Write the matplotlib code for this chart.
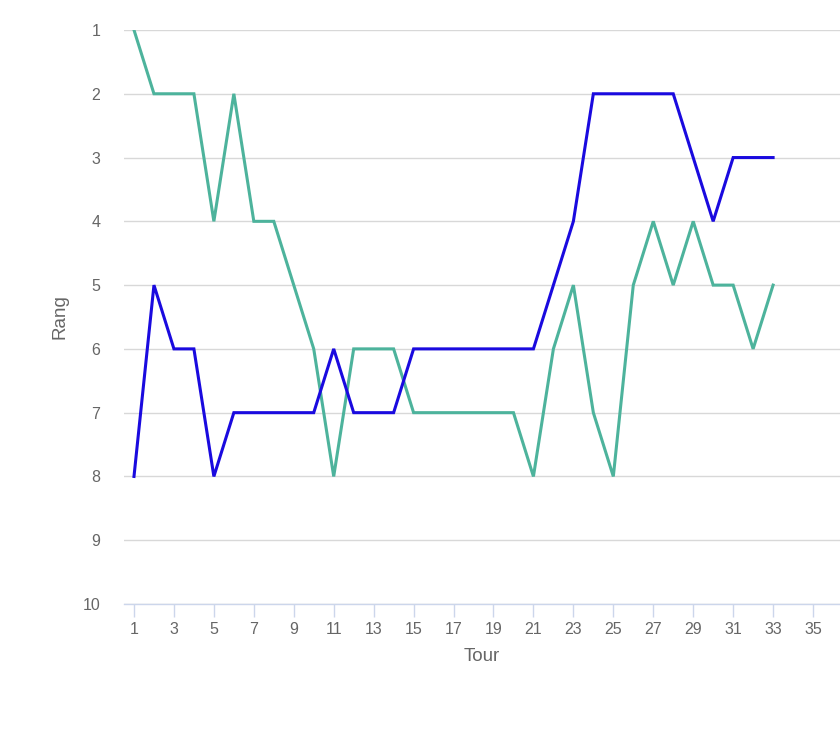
import matplotlib
matplotlib.use("Agg")
import matplotlib.pyplot as plt

# rounds and ranks
tours = list(range(1, 34))
rang_vert = [1, 2, 2, 2, 4, 2, 4, 4, 5, 6, 8, 6, 6, 6, 7, 7, 7, 7, 7, 7,
             8, 6, 5, 7, 8, 5, 4, 5, 4, 5, 5, 6, 5]
rang_bleu = [8, 5, 6, 6, 8, 7, 7, 7, 7, 7, 6, 7, 7, 7, 6, 6, 6, 6, 6, 6,
             6, 5, 4, 2, 2, 2, 2, 2, 3, 4, 3, 3, 3]
x_ticks = list(range(1, 36, 2))
y_ticks = list(range(1, 11))

plt.rcParams['font.family'] = ['Liberation Sans', 'DejaVu Sans']

fig = plt.figure(figsize=(8.4, 7.32), dpi=100)
ax = fig.add_axes([124 / 840, 1 - 604 / 732, 1 - 124 / 840, (604 - 30) / 732])

ax.plot(tours, rang_vert, color='#4db39c', lw=2.2, solid_joinstyle='miter', zorder=3)
ax.plot(tours, rang_bleu, color='#1a0adf', lw=2.2, solid_joinstyle='miter', zorder=4)

ax.set_xlim(0.5, 36.35)
ax.set_ylim(10, 1)
ax.set_yticks(y_ticks)
ax.set_xticks(x_ticks)

ax.grid(axis='y', color='#d8d8d8', lw=1)
ax.set_axisbelow(True)
for s in ['top', 'right', 'left']:
    ax.spines[s].set_visible(False)
ax.spines['bottom'].set_color('#ccd6eb')
ax.spines['bottom'].set_linewidth(1)

ax.tick_params(axis='y', length=0, pad=17, labelsize=11.5, labelcolor='#666666')
ax.tick_params(axis='x', length=9, width=1, color='#ccd6eb', pad=4,
               labelsize=11.5, labelcolor='#666666')

ax.set_xlabel('Tour', fontsize=13.5, color='#666666', labelpad=8)
ax.set_ylabel('Rang', fontsize=13.5, color='#666666', labelpad=10)

fig.savefig('out.png', dpi=100)
